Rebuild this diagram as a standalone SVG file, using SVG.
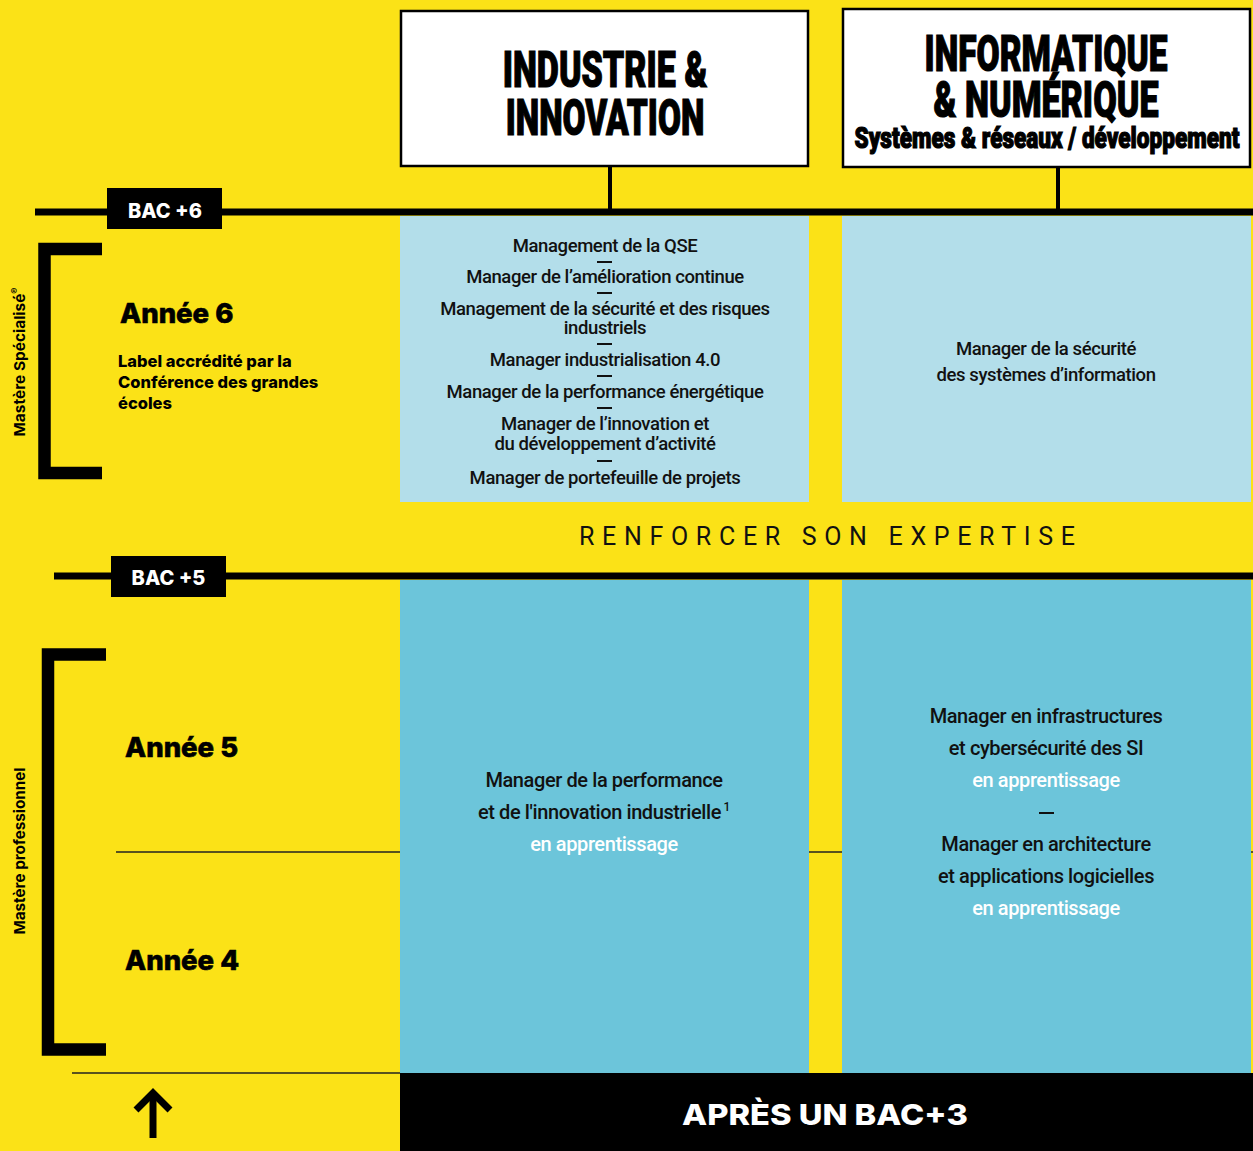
<svg xmlns="http://www.w3.org/2000/svg" width="1253" height="1151" viewBox="0 0 1253 1151">
<style>
.body{font-family:Roboto,"Liberation Sans",sans-serif;font-weight:500;fill:#111;text-anchor:middle;letter-spacing:-0.4px}
.s18{font-size:18.5px}
.s20{font-size:20px}
.w{fill:#fff}
.head{font-family:Roboto,"Liberation Sans",sans-serif;font-weight:900;fill:#000;stroke:#000;stroke-width:1.2px;text-anchor:middle}
.annee{font-family:Inter,"Liberation Sans",sans-serif;font-weight:800;font-size:27.5px;fill:#000;stroke:#000;stroke-width:0.6px}
.bac{font-family:Inter,"Liberation Sans",sans-serif;font-weight:800;font-size:20px;fill:#fff;text-anchor:middle}
.side{font-family:Inter,"Liberation Sans",sans-serif;font-weight:700;font-size:15px;fill:#000;text-anchor:middle}
.bracket{fill:none;stroke:#000;stroke-width:12.5}
.thin{stroke:#222;stroke-width:1.3}
.dash{stroke:#111;stroke-width:2}
</style>
<rect width="1253" height="1151" fill="#FBE217"/>

<g id="grid-lines">
<line class="thin" x1="116" y1="852" x2="1253" y2="852"/>
<line class="thin" x1="72" y1="1073" x2="400" y2="1073"/>
</g>

<g id="connectors">
<line x1="610" y1="167" x2="610" y2="210" stroke="#000" stroke-width="4"/>
<line x1="1058" y1="168" x2="1058" y2="210" stroke="#000" stroke-width="4"/>
<line x1="35" y1="212" x2="1253" y2="212" stroke="#000" stroke-width="7"/>
<line x1="54" y1="576" x2="1253" y2="576" stroke="#000" stroke-width="7"/>
</g>

<g id="bac6">
<rect x="107" y="188" width="115" height="41" fill="#000"/>
<text class="bac" x="165" y="218">BAC +6</text>
</g>
<g id="bac5">
<rect x="111" y="556" width="115" height="41" fill="#000"/>
<text class="bac" x="168.5" y="585">BAC +5</text>
</g>

<g id="header-industrie">
<rect x="401" y="11" width="407" height="155" fill="#fff" stroke="#000" stroke-width="2.5"/>
<text class="head" font-size="50" transform="translate(605,87) scale(0.75,1)" textLength="273" lengthAdjust="spacingAndGlyphs">INDUSTRIE &amp;</text>
<text class="head" font-size="50" transform="translate(605,135) scale(0.75,1)" textLength="265" lengthAdjust="spacingAndGlyphs">INNOVATION</text>
</g>

<g id="header-informatique">
<rect x="843" y="9" width="407" height="158" fill="#fff" stroke="#000" stroke-width="2.5"/>
<text class="head" font-size="50" transform="translate(1046,71) scale(0.75,1)" textLength="324" lengthAdjust="spacingAndGlyphs">INFORMATIQUE</text>
<text class="head" font-size="50" transform="translate(1046,117) scale(0.75,1)" textLength="300" lengthAdjust="spacingAndGlyphs">&amp; NUMÉRIQUE</text>
<text class="head" font-size="29" font-weight="700" stroke-width="0.8" transform="translate(1047,148) scale(0.77,1)" textLength="500" lengthAdjust="spacingAndGlyphs">Systèmes &amp; réseaux / développement</text>
</g>

<g id="mastere-specialise">
<path class="bracket" d="M102,249 H44.5 V473 H102"/>
<text class="side" transform="translate(25,362) rotate(-90)" textLength="149" lengthAdjust="spacingAndGlyphs">Mastère Spécialisé<tspan font-size="9" dy="-7">®</tspan></text>
</g>

<g id="annee6">
<text class="annee" x="120" y="323">Année 6</text>
<text font-family="Inter,'Liberation Sans',sans-serif" font-weight="800" font-size="16.5" fill="#000"><tspan x="118" y="367">Label accrédité par la</tspan><tspan x="118" y="388">Conférence des grandes</tspan><tspan x="118" y="409">écoles</tspan></text>
</g>

<g id="ms-industrie">
<rect x="400" y="216" width="409" height="286" fill="#B3DEEA"/>
<text class="body s18"><tspan x="605" y="252">Management de la QSE</tspan><tspan x="605" y="283">Manager de l’amélioration continue</tspan><tspan x="605" y="315">Management de la sécurité et des risques</tspan><tspan x="605" y="334">industriels</tspan><tspan x="605" y="366">Manager industrialisation 4.0</tspan><tspan x="605" y="398">Manager de la performance énergétique</tspan><tspan x="605" y="430">Manager de l’innovation et</tspan><tspan x="605" y="450">du développement d’activité</tspan><tspan x="605" y="484">Manager de portefeuille de projets</tspan></text>
<line class="dash" x1="597" y1="262" x2="612" y2="262"/>
<line class="dash" x1="597" y1="293" x2="612" y2="293"/>
<line class="dash" x1="597" y1="344" x2="612" y2="344"/>
<line class="dash" x1="597" y1="376" x2="612" y2="376"/>
<line class="dash" x1="597" y1="408" x2="612" y2="408"/>
<line class="dash" x1="597" y1="461" x2="612" y2="461"/>
</g>

<g id="ms-informatique">
<rect x="842" y="216" width="409" height="286" fill="#B3DEEA"/>
<text class="body s18"><tspan x="1046" y="355">Manager de la sécurité</tspan><tspan x="1046" y="381">des systèmes d’information</tspan></text>
</g>

<g id="renforcer">
<text x="579" y="545" font-family="Roboto,'Liberation Sans',sans-serif" font-size="25" fill="#111" textLength="496" lengthAdjust="spacing">RENFORCER SON EXPERTISE</text>
</g>

<g id="mastere-pro">
<path class="bracket" d="M106,654.5 H48 V1049.5 H106"/>
<text class="side" transform="translate(25,851) rotate(-90)" textLength="167" lengthAdjust="spacingAndGlyphs">Mastère professionnel</text>
</g>

<g id="annee5"><text class="annee" x="125" y="757">Année 5</text></g>
<g id="annee4"><text class="annee" x="125" y="970">Année 4</text></g>

<g id="mp-industrie">
<rect x="400" y="580" width="409" height="493" fill="#6CC5DA"/>
<text class="body s20"><tspan x="604" y="787">Manager de la performance</tspan><tspan x="604" y="819">et de l'innovation industrielle<tspan font-size="12" dy="-8"> 1</tspan></tspan><tspan x="604" y="851" class="w">en apprentissage</tspan></text>
</g>

<g id="mp-informatique">
<rect x="842" y="580" width="409" height="493" fill="#6CC5DA"/>
<text class="body s20"><tspan x="1046" y="723">Manager en infrastructures</tspan><tspan x="1046" y="755">et cybersécurité des SI</tspan><tspan x="1046" y="787" class="w">en apprentissage</tspan><tspan x="1046" y="851">Manager en architecture</tspan><tspan x="1046" y="883">et applications logicielles</tspan><tspan x="1046" y="915" class="w">en apprentissage</tspan></text>
<line class="dash" x1="1039" y1="813" x2="1054" y2="813"/>
</g>

<g id="apres-bac3">
<rect x="400" y="1073" width="853" height="78" fill="#000"/>
<text x="825" y="1125" font-family="Inter,'Liberation Sans',sans-serif" font-weight="800" font-size="29" fill="#fff" text-anchor="middle" textLength="286" lengthAdjust="spacingAndGlyphs">APRÈS UN BAC+3</text>
</g>

<g id="arrow-up">
<line x1="153" y1="1093" x2="153" y2="1138" stroke="#000" stroke-width="7"/>
<polyline points="136,1110 153,1093 170,1110" fill="none" stroke="#000" stroke-width="7"/>
</g>
</svg>
